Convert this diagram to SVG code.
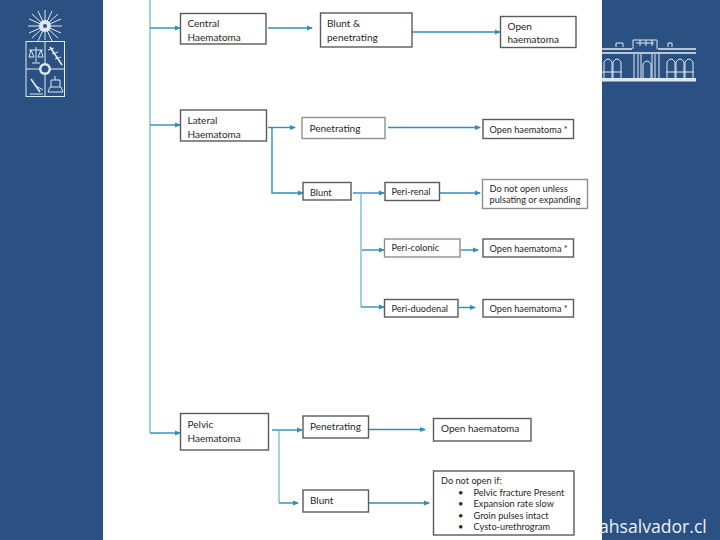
<svg xmlns="http://www.w3.org/2000/svg" width="720" height="540" viewBox="0 0 720 540">
<style>
text{font-family:Lato,"Open Sans","Noto Sans",sans-serif;font-size:10px;fill:#262626}
.s{font-size:9.200px}
.b{fill:#fff;stroke:#5a5a5a;stroke-width:1.4}
.g{stroke:#8f8f8f}
.c{fill:none;stroke:#2f8fb5;stroke-width:1.4}
.v{fill:none;stroke:#6fb9d2;stroke-width:1.3}
.l{fill:none;stroke:#dfe7f1;stroke-width:1}
.w{fill:none;stroke:#e6ecf4;stroke-width:1.6}
.f{fill:#dfe7f1}
</style>
<defs>
<marker id="a" markerWidth="7" markerHeight="6" refX="5" refY="3" orient="auto" markerUnits="userSpaceOnUse"><path d="M0 .5L6 3L0 5.500z" fill="#2f8fb5"/></marker>
</defs>
<rect width="720" height="540" fill="#2b5082"/>
<text x="599" y="533" style="font-family:'Open Sans',sans-serif;font-size:17.600px;fill:#eef2f7">ahsalvador.cl</text>
<rect x="103" width="499" height="540" fill="#fff"/>
<g id="logo-left">
<path class="l" d="M45 10V40M28 26H62M32 14L58 38M58 14L32 38M38 11L52 41M52 11L38 41M29 19L61 33M61 19L29 33"/>
<circle class="f" cx="45" cy="26" r="6"/>
<circle cx="45" cy="26" r="2" fill="#2b5082"/>
<rect class="l" x="26" y="41.500" width="38.500" height="55"/>
<path class="l" d="M45 41.500V63M45 75V96.500M26 69H39M51 69H64M29 50H43M31 50L29 57H34L31 50M41 50L38 57H43L41 50M36 47V62M32 63H40"/>
<path class="w" d="M50 47L62 65"/>
<path class="l" d="M48 50L54 48M52 54L58 52M55 59L61 57"/>
<path class="w" d="M31 79L40 92"/>
<path class="l" d="M30 94H43M36 86L43 90M48 92H63L61 87H50ZM51 87V80H60V87M55 80V76"/>
<circle class="f" cx="45" cy="69" r="6"/>
<circle cx="45" cy="69" r="3.500" fill="#2b5082"/>
</g>
<g id="logo-right">
<path class="w" d="M602 49H632M658 49H696M602 53H696M602 80H696"/>
<path class="l" d="M616 47V43H623V47M633 49V40H657V49M668 47V43H672V47M636 43H654M640 40V46M646 40V46M652 40V46"/>
<rect class="f" x="602" y="78" width="94" height="3.500"/>
<path class="l" d="M604 78V62Q608 56 612 62V78M613 78V62Q617 56 621 62V78M634 78V54M638 78V54M641 78V54M652 78V54M655 78V54M659 78V54M643 78V64Q647 58 651 64V78M667 78V62Q671 56 675 62V78M676 78V62Q680 56 684 62V78M685 78V62Q689 56 693 62V78M602 72H622M666 72H694"/>
</g>
<g id="connectors">
<path class="v" d="M150 0V433"/>
<path class="c" marker-end="url(#a)" d="M150 28H180"/>
<path class="c" marker-end="url(#a)" d="M268 28H312"/>
<path class="c" marker-end="url(#a)" d="M412 32H500"/>
<path class="c" marker-end="url(#a)" d="M150 125H180"/>
<path class="c" marker-end="url(#a)" d="M268 127.500H295"/>
<path class="c" marker-end="url(#a)" d="M272 127.500V193H303"/>
<path class="c" marker-end="url(#a)" d="M388 127.500H480"/>
<path class="c" marker-end="url(#a)" d="M353 193H384"/>
<path class="c" marker-end="url(#a)" d="M440 193H480"/>
<path class="v" d="M361 193V307"/>
<path class="c" marker-end="url(#a)" d="M362 250H384"/>
<path class="c" marker-end="url(#a)" d="M361 307H384"/>
<path class="c" marker-end="url(#a)" d="M461 250H478"/>
<path class="c" marker-end="url(#a)" d="M459 307.500H475"/>
<path class="c" marker-end="url(#a)" d="M150 433H180"/>
<path class="c" marker-end="url(#a)" d="M272 430H302"/>
<path class="v" d="M279 430V503"/>
<path class="c" marker-end="url(#a)" d="M279 503H298"/>
<path class="c" marker-end="url(#a)" d="M369 429.500H425"/>
<path class="c" marker-end="url(#a)" d="M369 503H429"/>
</g>
<g id="central"><rect class="b" x="180.500" y="13.500" width="85.500" height="30.500"/><text x="187.500" y="27">Central</text><text x="187.500" y="41">Haematoma</text></g>
<g id="central-bp"><rect class="b" x="320.500" y="13" width="91.500" height="34"/><text x="327" y="27">Blunt &amp;</text><text x="327" y="41">penetrating</text></g>
<g id="central-open"><rect class="b" x="500.500" y="16.500" width="75.500" height="31"/><text x="507.500" y="30">Open</text><text x="507.500" y="42.500">haematoma</text></g>
<g id="lateral"><rect class="b" x="180.500" y="110" width="86" height="31"/><text x="187.500" y="124">Lateral</text><text x="187.500" y="138">Haematoma</text></g>
<g id="lateral-pen"><rect class="b g" x="302" y="117.500" width="83" height="21"/><text x="309.500" y="131.500">Penetrating</text></g>
<g id="lateral-open"><rect class="b" x="483" y="119.500" width="90.500" height="19"/><text class="s" x="489.500" y="132.500">Open haematoma *</text></g>
<g id="blunt"><rect class="b" x="303" y="182.500" width="48" height="17.500"/><text class="s" x="310" y="196">Blunt</text></g>
<g id="peri-renal"><rect class="b" x="385" y="182.500" width="54.500" height="18"/><text class="s" x="391.500" y="195">Peri-renal</text></g>
<g id="renal-out"><rect class="b g" x="482.500" y="179.500" width="105" height="29"/><text class="s" x="489.500" y="192">Do not open unless</text><text class="s" x="489.500" y="203">pulsating or expanding</text></g>
<g id="peri-colonic"><rect class="b g" x="384.500" y="239" width="75.500" height="18"/><text class="s" x="391.500" y="251">Peri-colonic</text></g>
<g id="colonic-out"><rect class="b" x="483" y="239" width="90.500" height="18"/><text class="s" x="489.500" y="251.500">Open haematoma *</text></g>
<g id="peri-duodenal"><rect class="b" x="384.500" y="299.500" width="73.500" height="17.500"/><text class="s" x="391.500" y="312">Peri-duodenal</text></g>
<g id="duodenal-out"><rect class="b" x="483" y="299.500" width="90.500" height="17.500"/><text class="s" x="489.500" y="312">Open haematoma *</text></g>
<g id="pelvic"><rect class="b" x="180.500" y="413.500" width="88" height="36.500"/><text x="187.500" y="427.500">Pelvic</text><text x="187.500" y="441.500">Haematoma</text></g>
<g id="pelvic-pen"><rect class="b" x="303" y="416" width="65.500" height="22"/><text x="310" y="429.500">Penetrating</text></g>
<g id="pelvic-open"><rect class="b" x="433.500" y="418.500" width="97.500" height="22.500"/><text x="441" y="432">Open haematoma</text></g>
<g id="pelvic-blunt"><rect class="b" x="303" y="490" width="65.500" height="22"/><text x="310" y="503.500">Blunt</text></g>
<g id="pelvic-out"><rect class="b" x="433.500" y="471" width="140.500" height="64"/>
<text class="s" x="441" y="483.500">Do not open if:</text>
<text class="s" x="458" y="495.500">•</text><text class="s" x="473.500" y="495.500">Pelvic fracture Present</text>
<text class="s" x="458" y="507">•</text><text class="s" x="473.500" y="507">Expansion rate slow</text>
<text class="s" x="458" y="518.500">•</text><text class="s" x="473.500" y="518.500">Groin pulses intact</text>
<text class="s" x="458" y="530">•</text><text class="s" x="473.500" y="530">Cysto-urethrogram</text></g>
</svg>
